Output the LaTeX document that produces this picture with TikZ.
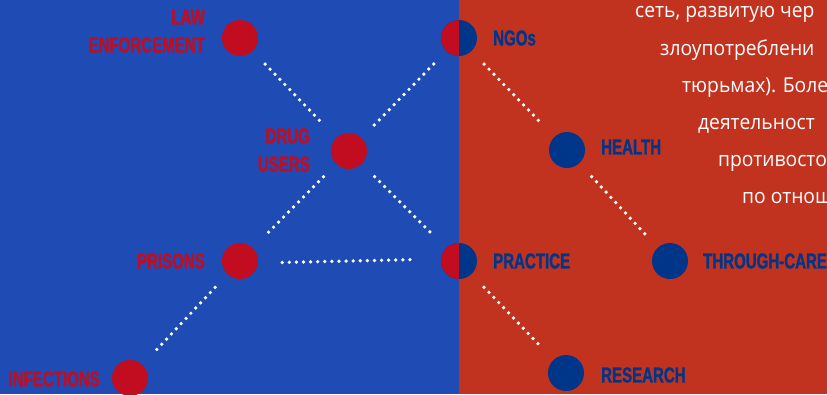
\documentclass[tikz,border=0pt]{standalone}
\usepackage{fontspec}
\setmainfont{Open Sans}
\newfontfamily\txtfont[FakeStretch=0.94]{Open Sans}
\newfontfamily\labfont[FakeStretch=0.7,FakeBold=1.2]{Liberation Sans Bold}
\usepackage{tikz}

\definecolor{bgBlue}{HTML}{1E4BB4}
\definecolor{bgRed}{HTML}{C1321F}
\definecolor{dotRed}{HTML}{C10D1F}
\definecolor{dotBlue}{HTML}{00368A}

\begin{document}
\begin{tikzpicture}[x=1pt,y=-1pt,
  rednode/.style={circle,fill=dotRed,minimum size=36pt,inner sep=0pt},
  bluenode/.style={circle,fill=dotBlue,minimum size=36pt,inner sep=0pt},
  halfnode/.style={circle,fill=dotBlue,minimum size=36pt,inner sep=0pt,
    path picture={\fill[dotRed] (path picture bounding box.south west) rectangle (path picture bounding box.north);}},
  lab/.style={inner sep=0pt,font=\labfont\fontsize{21.5}{28}\selectfont},
  redlab/.style={lab,text=dotRed,anchor=east,align=right},
  bluelab/.style={lab,text=dotBlue,anchor=west,align=left},
  link/.style={white,line width=3.7pt,line cap=round,dash pattern=on 0pt off 7.1pt,shorten <=18pt,shorten >=18pt},
  txt/.style={inner sep=0pt,anchor=base west,text=white,font=\txtfont\fontsize{20.5}{26}\selectfont}]

\useasboundingbox (0,0) rectangle (827,394);
\fill[bgBlue] (0,0) rectangle (459,394);
\fill[bgRed] (459,0) rectangle (827,394);

%text on the right
\begin{scope}
\clip (459,0) rectangle (827,394);
\node[txt] (t1) at (635,17) {сеть, развитую чер};
\node[txt] (t2) at (660,55) {злоупотреблени};
\node[txt] (t3) at (682,92) {тюрьмах). Боле};
\node[txt] (t4) at (698,129) {деятельност};
\node[txt] (t5) at (718,166) {противосто};
\node[txt] (t6) at (742,203) {по отнош};
\end{scope}

%circles
\node[rednode] (law) at (240,38) {};
\node[halfnode] (ngo) at (459,38) {};
\node[rednode] (drug) at (349,151) {};
\node[bluenode] (health) at (567,150) {};
\node[rednode] (prison) at (240,261) {};
\node[halfnode] (practice) at (459,261) {};
\node[bluenode] (through) at (670,261) {};
\node[rednode] (infect) at (130,378) {};
\node[bluenode] (research) at (566,373) {};

%labels
\node[redlab] (lawl) at (205,31) {LAW\\ENFORCEMENT};
\node[redlab] (drugl) at (310,150) {DRUG\\USERS};
\node[redlab] (prisonl) at (205,261) {PRISONS};
\node[redlab] (infectl) at (100,379) {INFECTIONS};
\node[bluelab] (ngol) at (493,38) {NGOs};
\node[bluelab] (healthl) at (601,147) {HEALTH};
\node[bluelab] (practicel) at (493,261) {PRACTICE};
\node[bluelab] (throughl) at (703,261) {THROUGH-CARE};
\node[bluelab] (researchl) at (601,375) {RESEARCH};

%links
\draw[link] (law) -- (drug);
\draw[link] (ngo) -- (drug);
\draw[link] (drug) -- (prison);
\draw[link] (drug) -- (practice);
\draw[link,shorten <=24pt,shorten >=24pt] (prison.east) ++(0,2) -- ([yshift=2pt]practice.west);
\draw[link] (prison) -- (infect);
\draw[link] (ngo) -- (health);
\draw[link] (health) -- (through);
\draw[link] (practice) -- (research);

\end{tikzpicture}
\end{document}
